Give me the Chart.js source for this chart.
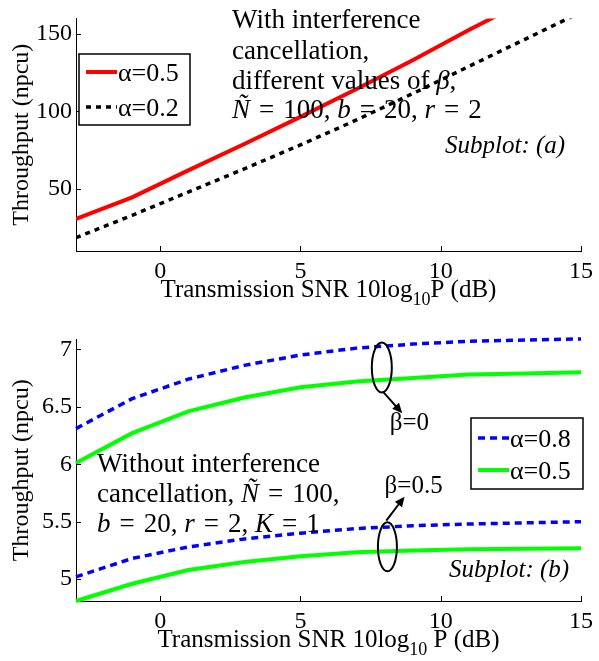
<!DOCTYPE html>
<html>
<head>
<meta charset="utf-8">
<script src="https://cdn.jsdelivr.net/npm/chart.js@4.4.0/dist/chart.umd.min.js"></script>
<style>
  body { margin: 0; background: #fff; }
  canvas { display: block; }
</style>
</head>
<body>
<canvas id="chartA" width="599" height="310"></canvas>
<canvas id="chartB" width="599" height="351"></canvas>
<script>
// values
const snrDb = [-3, -1, 1, 3, 5, 7, 9, 11, 13, 15];
const xTicks = [0, 5, 10, 15];
const topYTicks = [50, 100, 150];
const bottomYTicks = [5, 5.5, 6, 6.5, 7];

// subplot (a): with interference cancellation
const withIcAlpha05 = [30.7, 44.6, 62, 79, 96.5, 114.5, 133, 152.5, 171, 190];
const withIcAlpha02 = [18.6, 33, 48, 63, 78.4, 94.5, 111.5, 129, 146.5, 164];

// subplot (b): without interference cancellation
const noIcBeta0Alpha08 = [6.31, 6.57, 6.74, 6.86, 6.95, 7.01, 7.045, 7.07, 7.08, 7.09];
const noIcBeta0Alpha05 = [6.01, 6.27, 6.46, 6.58, 6.67, 6.72, 6.75, 6.78, 6.79, 6.80];
const noIcBeta05Alpha08 = [5.02, 5.18, 5.28, 5.35, 5.40, 5.44, 5.465, 5.48, 5.49, 5.50];
const noIcBeta05Alpha05 = [4.81, 4.96, 5.08, 5.15, 5.20, 5.235, 5.25, 5.26, 5.265, 5.27];

const SERIF = '"Liberation Serif", "Times New Roman", serif';
const EQ = '\u2004=\u2004'; // wider, latex-like spacing round "="

function pts(arr) {
  return snrDb.map((x, i) => ({ x: x, y: arr[i] }));
}

function font(size, italic) {
  return (italic ? 'italic ' : '') + size + 'px ' + SERIF;
}

// draw a line of text made of roman / italic runs
function drawRuns(ctx, x, y, runs, size) {
  let cx = x;
  runs.forEach(r => {
    ctx.font = font(size, r[1]);
    ctx.fillText(r[0], cx, y);
    cx += ctx.measureText(r[0]).width;
  });
}

// matlab style ticks pointing into the plot
function drawInnerTicks(chart) {
  const ctx = chart.ctx;
  const xs = chart.scales.x, ys = chart.scales.y;
  ctx.save();
  ctx.strokeStyle = '#000';
  ctx.lineWidth = 1;
  ctx.beginPath();
  xs.ticks.forEach(t => {
    const px = Math.round(xs.getPixelForValue(t.value)) + 0.5;
    ctx.moveTo(px, ys.bottom);
    ctx.lineTo(px, ys.bottom - 5);
  });
  ys.ticks.forEach(t => {
    const py = Math.round(ys.getPixelForValue(t.value)) + 0.5;
    ctx.moveTo(xs.left, py);
    ctx.lineTo(xs.left + 5, py);
  });
  ctx.stroke();
  ctx.restore();
}

function drawAxisTitles(chart, subSpace) {
  const ctx = chart.ctx;
  const area = chart.chartArea;
  ctx.save();
  ctx.fillStyle = '#000';
  ctx.textBaseline = 'alphabetic';
  // x title with subscript
  const size = 25;
  const a = 'Transmission SNR 10log', sub = '10', b = (subSpace ? ' ' : '') + 'P (dB)';
  ctx.font = font(size);
  const wa = ctx.measureText(a).width, wb = ctx.measureText(b).width;
  ctx.font = font(18);
  const ws = ctx.measureText(sub).width;
  let x = (area.left + area.right) / 2 - (wa + ws + wb) / 2;
  const base = area.bottom + 46;
  ctx.font = font(size);
  ctx.fillText(a, x, base);
  ctx.font = font(18);
  ctx.fillText(sub, x + wa, base + 8);
  ctx.font = font(size);
  ctx.fillText(b, x + wa + ws, base);
  // y title, rotated
  ctx.translate(28, (area.top + area.bottom) / 2);
  ctx.rotate(-Math.PI / 2);
  ctx.textAlign = 'center';
  ctx.font = font(24);
  ctx.fillText('Throughput (npcu)', 0, 0);
  ctx.restore();
}

function drawLegend(chart, box, idx) {
  const ctx = chart.ctx;
  ctx.save();
  ctx.fillStyle = '#fff';
  ctx.fillRect(box.x, box.y, box.w, box.h);
  ctx.strokeStyle = '#000';
  ctx.lineWidth = 1.5;
  ctx.strokeRect(box.x, box.y, box.w, box.h);
  idx.forEach((di, k) => {
    const ds = chart.data.datasets[di];
    const cy = box.y + box.rowTop + k * box.rowGap;
    ctx.beginPath();
    ctx.strokeStyle = ds.borderColor;
    ctx.lineWidth = ds.borderWidth;
    ctx.setLineDash(ds.borderDash || []);
    ctx.moveTo(box.x + 7, cy);
    ctx.lineTo(box.x + 38, cy);
    ctx.stroke();
    ctx.setLineDash([]);
    ctx.fillStyle = '#000';
    ctx.font = font(26);
    ctx.textBaseline = 'alphabetic';
    ctx.fillText(ds.label, box.x + 39, cy + 9);
  });
  ctx.restore();
}

function baseOptions(yMin, yMax, yTicks, xHeight, padTop, yFmt) {
  return {
    responsive: false,
    animation: false,
    layout: { padding: { left: 0, right: 15, top: padTop, bottom: 0 } },
    plugins: { legend: { display: false }, tooltip: { enabled: false } },
    elements: { point: { radius: 0 }, line: { tension: 0 } },
    scales: {
      x: {
        type: 'linear',
        min: -3, max: 15,
        afterBuildTicks: s => { s.ticks = xTicks.map(v => ({ value: v })); },
        afterFit: s => { s.height = xHeight; },
        grid: { display: false, drawTicks: false },
        border: { display: true, color: '#000', width: 1 },
        ticks: { color: '#000', padding: 6, maxRotation: 0, font: { family: SERIF, size: 24 } }
      },
      y: {
        min: yMin, max: yMax,
        afterBuildTicks: s => { s.ticks = yTicks.map(v => ({ value: v })); },
        afterFit: s => { s.width = 76; },
        grid: { display: false, drawTicks: false },
        border: { display: true, color: '#000', width: 1 },
        ticks: { color: '#000', padding: 4, font: { family: SERIF, size: 24 }, callback: yFmt }
      }
    }
  };
}

// subplot (a)
new Chart(document.getElementById('chartA'), {
  type: 'line',
  data: {
    datasets: [
      { label: 'α=0.5', data: pts(withIcAlpha05), borderColor: '#ff0000', borderWidth: 4 },
      { label: 'α=0.2', data: pts(withIcAlpha02), borderColor: '#000000', borderWidth: 3.5, borderDash: [5, 5] }
    ]
  },
  options: baseOptions(10, 160, topYTicks, 59, 5, v => String(v)),
  plugins: [{
    id: 'decorA',
    afterDraw(chart) {
      const ctx = chart.ctx;
      drawInnerTicks(chart);
      drawAxisTitles(chart, false);
      ctx.save();
      ctx.fillStyle = '#000';
      ctx.textBaseline = 'alphabetic';
      drawRuns(ctx, 232, 28, [['With interference', false]], 27);
      drawRuns(ctx, 232, 59, [['cancellation,', false]], 27);
      drawRuns(ctx, 232, 89, [['different values of ', false], ['β', true], [',', false]], 27);
      drawRuns(ctx, 232, 118, [['Ñ', true], [EQ + '100, ', false], ['b', true], [EQ + '20, ', false], ['r', true], [EQ + '2', false]], 27);
      drawRuns(ctx, 445, 153, [['Subplot: (a)', true]], 25);
      ctx.restore();
      drawLegend(chart, { x: 79, y: 54, w: 111, h: 71, rowTop: 18, rowGap: 35 }, [0, 1]);
    }
  }]
});

// annotation marks for subplot (b), in data units
const ellipseB0 = { x: 7.9, y: 6.842, rx: 10, ry: 25 };
const ellipseB05 = { x: 8.1, y: 5.281, rx: 9.5, ry: 24.5 };
const arrowB0 = { x1: 7.94, y1: 6.631, x2: 8.63, y2: 6.443 };
const arrowB05 = { x1: 8.06, y1: 5.51, x2: 8.71, y2: 5.718 };

function drawArrow(ctx, x1, y1, x2, y2) {
  const ang = Math.atan2(y2 - y1, x2 - x1);
  const L = 10, W = 4.5;
  ctx.beginPath();
  ctx.moveTo(x1, y1);
  ctx.lineTo(x2 - Math.cos(ang) * L * 0.8, y2 - Math.sin(ang) * L * 0.8);
  ctx.stroke();
  ctx.beginPath();
  ctx.moveTo(x2, y2);
  ctx.lineTo(x2 - Math.cos(ang) * L - Math.sin(ang) * W, y2 - Math.sin(ang) * L + Math.cos(ang) * W);
  ctx.lineTo(x2 - Math.cos(ang) * L + Math.sin(ang) * W, y2 - Math.sin(ang) * L - Math.cos(ang) * W);
  ctx.closePath();
  ctx.fill();
}

// subplot (b)
new Chart(document.getElementById('chartB'), {
  type: 'line',
  data: {
    datasets: [
      { label: 'α=0.8', data: pts(noIcBeta0Alpha08), borderColor: '#0000ff', borderWidth: 3.5, borderDash: [7, 5], clip: 3 },
      { label: 'α=0.5', data: pts(noIcBeta0Alpha05), borderColor: '#00ff00', borderWidth: 4, clip: 3 },
      { label: 'α=0.8', data: pts(noIcBeta05Alpha08), borderColor: '#0000ff', borderWidth: 3.5, borderDash: [7, 5], clip: 3 },
      { label: 'α=0.5', data: pts(noIcBeta05Alpha05), borderColor: '#00ff00', borderWidth: 4, clip: 3 }
    ]
  },
  options: baseOptions(4.81, 7.085, bottomYTicks, 60, 29.5, v => String(v)),
  plugins: [{
    id: 'decorB',
    afterDraw(chart) {
      const ctx = chart.ctx;
      const xs = chart.scales.x, ys = chart.scales.y;
      drawInnerTicks(chart);
      drawAxisTitles(chart, true);
      ctx.save();
      ctx.strokeStyle = '#000';
      ctx.fillStyle = '#000';
      ctx.lineWidth = 2;
      [ellipseB0, ellipseB05].forEach(e => {
        ctx.beginPath();
        ctx.ellipse(xs.getPixelForValue(e.x), ys.getPixelForValue(e.y), e.rx, e.ry, 0, 0, Math.PI * 2);
        ctx.stroke();
      });
      [arrowB0, arrowB05].forEach(a => {
        drawArrow(ctx, xs.getPixelForValue(a.x1), ys.getPixelForValue(a.y1),
                  xs.getPixelForValue(a.x2), ys.getPixelForValue(a.y2));
      });
      ctx.textBaseline = 'alphabetic';
      drawRuns(ctx, xs.getPixelForValue(8.18), ys.getPixelForValue(6.298), [['β=0', false]], 25);
      drawRuns(ctx, xs.getPixelForValue(8.0), ys.getPixelForValue(5.748), [['β=0.5', false]], 25);
      drawRuns(ctx, 97, 162, [['Without interference', false]], 27);
      drawRuns(ctx, 97, 192, [['cancellation, ', false], ['Ñ', true], [EQ + '100,', false]], 27);
      drawRuns(ctx, 97, 222, [['b', true], [EQ + '20, ', false], ['r', true], [EQ + '2, ', false], ['K', true], [EQ + '1', false]], 27);
      drawRuns(ctx, 449, 267, [['Subplot: (b)', true]], 25);
      ctx.restore();
      drawLegend(chart, { x: 471, y: 108, w: 112, h: 71, rowTop: 20, rowGap: 32 }, [0, 1]);
    }
  }]
});
</script>
</body>
</html>
